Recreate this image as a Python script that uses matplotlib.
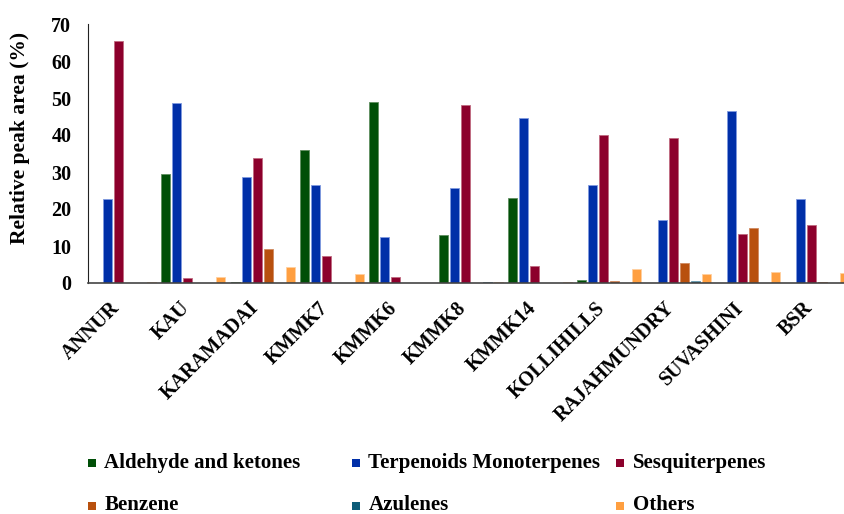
import matplotlib
matplotlib.use("Agg")
import matplotlib.pyplot as plt
from matplotlib.patches import Rectangle
import numpy as np

plt.rcParams['font.family'] = ['Liberation Serif', 'DejaVu Serif']
plt.rcParams['font.weight'] = 'bold'

categories = ["ANNUR", "KAU", "KARAMADAI", "KMMK7", "KMMK6", "KMMK8",
              "KMMK14", "KOLLIHILLS", "RAJAHMUNDRY", "SUVASHINI", "BSR"]
series_names = ["Aldehyde and ketones", "Terpenoids Monoterpenes", "Sesquiterpenes",
                "Benzene", "Azulenes", "Others"]
aldehyde = [0.1, 29.4, 0.4, 35.9, 48.8, 13.0, 23.0, 0.8, 0.0, 0.0, 0.1]
terpenoids = [22.6, 48.6, 28.6, 26.4, 12.3, 25.6, 44.5, 26.6, 16.9, 46.5, 22.6]
sesquiterpenes = [65.5, 1.4, 33.9, 7.4, 1.5, 48.1, 4.6, 40.0, 39.3, 13.2, 15.6]
benzene = [0.0, 0.1, 9.2, 0.0, 0.0, 0.0, 0.0, 0.5, 5.3, 14.9, 0.3]
azulenes = [0.0, 0.0, 0.0, 0.0, 0.0, 0.2, 0.0, 0.0, 0.5, 0.0, 0.0]
others = [0.4, 1.6, 4.2, 2.3, 0.0, 0.3, 0.3, 3.8, 2.4, 3.0, 2.7]
colors = ["#004f07", "#002fa8", "#8c002c", "#b8500e", "#0d5c78", "#ff9f40"]
edge_colors = ["#5f8f60", "#7f9ae0", "#c06a80", "#d08a60", "#6a9ab0", "#ffd0a0"]

series = [aldehyde, terpenoids, sesquiterpenes, benzene, azulenes, others]

fig = plt.figure(figsize=(8.45, 5.14), dpi=100)
ax = fig.add_axes([88/845, 231/514, 1 - 88/845, 259/514])

x = np.arange(len(categories))
slot = 0.159
width = 0.13
for j, (vals, c, ec) in enumerate(zip(series, colors, edge_colors)):
    ax.bar(x + (j - 2.5) * slot, vals, width=width, color=c,
           edgecolor=ec, linewidth=0.6, label=series_names[j])

ax.set_xlim(-0.52, 10.40)
ax.set_ylim(0, 70)
ax.set_yticks(np.arange(0, 71, 10))
ax.spines['top'].set_visible(False)
ax.spines['right'].set_visible(False)
ax.spines['left'].set_color('#222222')
ax.spines['bottom'].set_color('#444444')
ax.spines['bottom'].set_linewidth(1.2)
ax.tick_params(axis='y', length=0, labelsize=14.5, pad=12)
ax.tick_params(axis='x', length=0, labelsize=14.5, pad=11)
ax.set_xticks(x)
ax.set_xticklabels(categories, rotation=45, ha='right', va='top', fontweight='bold')
for lab in ax.get_yticklabels():
    lab.set_fontweight('bold')

fig.text(20 / 845, (514 - 137.5) / 514, "Relative peak area (%)", rotation=90,
         fontsize=15.5, fontweight='bold', ha='center', va='center')

# legend laid out manually in a 3x2 grid
leg_x = [88, 352, 616]
leg_y = [463, 505.5]
sq = 8
for k, (name, c) in enumerate(zip(series_names, colors)):
    r, col = divmod(k, 3)
    px = leg_x[col]
    py = leg_y[r]
    fig.patches.append(Rectangle((px / 845, (514 - py - sq / 2) / 514), sq / 845, sq / 514,
                                 transform=fig.transFigure, facecolor=c,
                                 edgecolor='none'))
    fig.text((px + 16.5) / 845, (514 - py) / 514, name, fontsize=15,
             fontweight='bold', va='center', ha='left')

fig.savefig("out.png", dpi=100)
